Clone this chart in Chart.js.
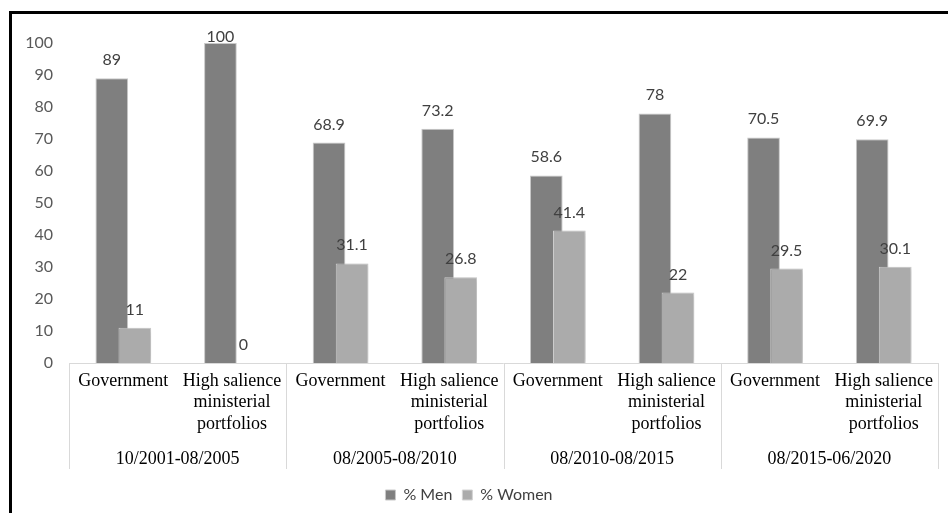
<!DOCTYPE html>
<html>
<head>
<meta charset="utf-8">
<script src="https://cdn.jsdelivr.net/npm/chart.js@4/dist/chart.umd.min.js"></script>
<style>
  html, body { margin: 0; padding: 0; background: #fff; }
  #wrap { position: relative; width: 948px; height: 513px; overflow: hidden; }
  #frame { position: absolute; left: 9px; top: 11px; width: 960px; height: 520px;
           border-top: 3px solid #000; border-left: 3px solid #000; box-sizing: border-box; }
  canvas { position: absolute; left: 0; top: 0; }
</style>
</head>
<body>
<div id="wrap">
  <div id="frame"></div>
  <canvas id="chart" width="948" height="513"></canvas>
</div>
<script>
// 資料
var subLabels = [
  ['Government'], ['High salience', 'ministerial', 'portfolios'],
  ['Government'], ['High salience', 'ministerial', 'portfolios'],
  ['Government'], ['High salience', 'ministerial', 'portfolios'],
  ['Government'], ['High salience', 'ministerial', 'portfolios']
];
var periods = ['10/2001-08/2005', '08/2005-08/2010', '08/2010-08/2015', '08/2015-06/2020'];
var menValues = [89, 100, 68.9, 73.2, 58.6, 78, 70.5, 69.9];
var womenValues = [11, 0, 31.1, 26.8, 41.4, 22, 29.5, 30.1];
var yTicks = [0, 10, 20, 30, 40, 50, 60, 70, 80, 90, 100];

var labelFont = 'Lato, "Open Sans", sans-serif';

// 女性長條畫在男性之上，加陰影
var womenOnTop = {
  id: 'womenOnTop',
  beforeDatasetDraw: function(chart, args) {
    if (args.index === 1) return false;
  },
  afterDatasetsDraw: function(chart) {
    var ctx = chart.ctx;
    var area = chart.chartArea;
    ctx.save();
    ctx.beginPath();
    ctx.rect(area.left, 0, area.right - area.left, area.bottom);
    ctx.clip();
    ctx.shadowColor = 'rgba(0,0,0,0.16)';
    ctx.shadowBlur = 6;
    ctx.shadowOffsetX = 2;
    chart.getDatasetMeta(1).controller.draw();
    ctx.restore();
  }
};

// 數值標籤
var valueLabels = {
  id: 'valueLabels',
  afterDatasetsDraw: function(chart) {
    var ctx = chart.ctx;
    ctx.save();
    ctx.font = '16px ' + labelFont;
    ctx.fillStyle = '#404040';
    ctx.textAlign = 'center';
    ctx.textBaseline = 'alphabetic';
    chart.data.datasets.forEach(function(ds, di) {
      chart.getDatasetMeta(di).data.forEach(function(bar, i) {
        var y = Math.max(bar.y - 13, chart.chartArea.top - 1);
        ctx.fillText(String(ds.data[i]), bar.x, y);
      });
    });
    ctx.restore();
  }
};

// 分組分隔線
var separators = {
  id: 'separators',
  afterDraw: function(chart) {
    var x = chart.scales.x;
    var ctx = chart.ctx;
    var step = x.width / periods.length;
    ctx.save();
    ctx.strokeStyle = '#d9d9d9';
    ctx.lineWidth = 1;
    ctx.beginPath();
    for (var k = 0; k <= periods.length; k++) {
      var px = Math.round(x.left + k * step) + 0.5;
      ctx.moveTo(px, x.top);
      ctx.lineTo(px, x.top + 106);
    }
    ctx.moveTo(x.left, x.top + 0.5);
    ctx.lineTo(x.right, x.top + 0.5);
    ctx.stroke();
    ctx.restore();
  }
};

new Chart(document.getElementById('chart').getContext('2d'), {
  type: 'bar',
  data: {
    labels: subLabels,
    datasets: [{
      label: '% Men',
      data: menValues,
      backgroundColor: '#7f7f7f',
      borderColor: '#c8c8c8',
      borderWidth: 1,
      categoryPercentage: 0.424,
      barPercentage: 1.42
    }, {
      label: '% Women',
      data: womenValues,
      backgroundColor: '#ababab',
      borderColor: '#d4d4d4',
      borderWidth: 1,
      categoryPercentage: 0.424,
      barPercentage: 1.42
    }]
  },
  options: {
    responsive: false,
    animation: false,
    layout: { padding: { left: 0, right: 10, top: 43, bottom: 0 } },
    scales: {
      y: {
        min: 0, max: 100,
        afterBuildTicks: function(s) { s.ticks = yTicks.map(function(v) { return { value: v }; }); },
        afterFit: function(s) { s.width = 69; },
        grid: { display: false, drawTicks: false },
        border: { display: false },
        ticks: { padding: 16, color: '#595959', font: { family: labelFont, size: 16 } }
      },
      x: {
        afterFit: function(s) { s.height = 80; },
        grid: { display: false, drawTicks: false },
        border: { display: false },
        ticks: {
          padding: 7, color: '#000', maxRotation: 0, autoSkip: false,
          font: { family: '"Liberation Serif", "Times New Roman", serif', size: 18, lineHeight: 1.2 }
        }
      },
      x2: {
        type: 'category',
        position: 'bottom',
        labels: periods,
        offset: true,
        afterFit: function(s) { s.height = 34; },
        grid: { display: false, drawTicks: false },
        border: { display: false },
        ticks: {
          padding: 5, color: '#000', maxRotation: 0, autoSkip: false,
          font: { family: '"Liberation Serif", "Times New Roman", serif', size: 18 }
        }
      }
    },
    plugins: {
      legend: {
        position: 'bottom',
        labels: {
          boxWidth: 10, boxHeight: 10, padding: 10,
          color: '#404040', font: { family: labelFont, size: 16 }
        }
      },
      tooltip: { enabled: false }
    }
  },
  plugins: [womenOnTop, valueLabels, separators]
});
</script>
</body>
</html>
